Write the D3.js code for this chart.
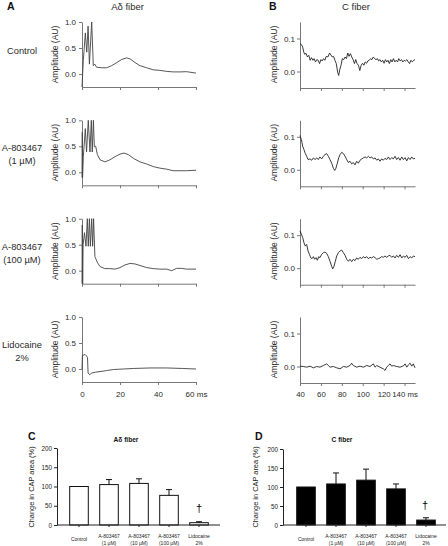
<!DOCTYPE html>
<html><head><meta charset="utf-8">
<script src="https://cdn.jsdelivr.net/npm/d3@7/dist/d3.min.js"></script>
<style>body{margin:0;background:#fff}svg{display:block;font-family:Arial,"Liberation Sans",sans-serif}</style>
</head><body><svg id="c" width="448" height="546"></svg>
<script>
// ---------- DATA ----------
const rowLabels = [["Control"], ["A-803467", "(1 µM)"], ["A-803467", "(100 µM)"], ["Lidocaine", "2%"]];
const aTicksX = [0, 20, 40, 60];
const aTicksY = [0, 0.5, 1.0];
const bTicksX = [40, 60, 80, 100, 120, 140];
const bTicksY = [0, 0.1];

// A-delta fiber traces [ms, AU]
const adControl = [[0,-0.25],[0.7,0.26],[1.75,0.79],[2.5,0.42],[3.2,0.92],[3.9,0.19],[5.1,1.0],[5.95,0.16],[6.7,0.19],[7.7,0.13],[10.4,0.12],[13,0.12],[15.6,0.16],[18.3,0.22],[20.9,0.28],[23.5,0.31],[25.3,0.29],[27.9,0.22],[30.5,0.16],[34,0.12],[37.5,0.08],[41,0.07],[44.6,0.05],[48,0.04],[51.6,0.04],[55,0.045],[59.5,0.02],[60,0.02]];
const adA1 = [[0,-0.1],[0.15,0.77],[0.3,-0.1],[0.7,0.3],[1.75,0.84],[2.4,0.39],[3.3,1.0],[4.2,0.39],[4.9,1.0],[5.4,0.39],[6,1.0],[6.5,0.49],[7.2,0.5],[8.1,0.34],[9.5,0.24],[12.1,0.2],[14.7,0.24],[17.4,0.3],[20,0.35],[22.1,0.37],[24.4,0.34],[27,0.27],[30.5,0.2],[34,0.16],[37.5,0.11],[41,0.08],[44.6,0.06],[48,0.03],[51.6,0.03],[55,0.03],[60,0.04]];
const adA100 = [[0,-0.25],[0.15,0.88],[0.35,-0.25],[0.6,0.5],[1.3,0.73],[2.1,0.47],[2.8,1.0],[3.3,0.47],[3.9,1.0],[4.4,0.47],[5.1,1.0],[5.6,0.47],[6.1,1.0],[6.8,0.27],[8.2,0.15],[9.5,0.08],[12,0.04],[14.7,0.04],[17.4,0.03],[20,0.06],[22.6,0.11],[25.3,0.14],[27.9,0.13],[30.5,0.1],[34,0.06],[37.5,0.04],[41,0.03],[44.6,0.03],[47.2,0.0],[49.8,0.045],[52.5,0.045],[55,0.03],[60,0.03]];
const adLido = [[0,0],[0.2,0.26],[1.6,0.28],[2.4,0.25],[2.9,0.22],[3.2,-0.08],[4.2,-0.11],[4.9,-0.08],[7.2,-0.06],[9.5,-0.05],[13,-0.03],[16.5,-0.01],[21.8,0],[27,0.01],[35.8,0.02],[44.6,0.02],[53,0.01],[60,0]];

// C fiber traces [ms, AU]
const cControl = [[40,.085],[41.3,.082],[42.6,.074],[43.6,.059],[44.5,.052],[45.8,.055],[47.1,.044],[48.4,.049],[49.7,.034],[51,.042],[52.3,.034],[53.5,.039],[54.8,.029],[56.1,.036],[57.4,.034],[58.7,.024],[60,.036],[61.2,.032],[62.5,.039],[63.8,.034],[65.1,.046],[66.7,.044],[68.3,.056],[69.6,.05],[70.8,.044],[72.1,.046],[73.4,.034],[74.7,.024],[76,-.002],[77,-.012],[78,.005],[79.2,.018],[80.5,.039],[81.8,.036],[83.1,.044],[84.4,.039],[85.7,.056],[86.9,.046],[88.2,.054],[89.5,.044],[90.8,.036],[92.1,.024],[93.3,.036],[94.6,.024],[95.9,.019],[97.2,.003],[98.5,.019],[99.8,.025],[101.1,.019],[102.4,.029],[103.7,.025],[104.9,.032],[106.2,.034],[107.5,.039],[108.8,.036],[110.1,.044],[111.4,.039],[112.7,.036],[114,.039],[115.2,.032],[116.5,.036],[117.8,.029],[119.1,.034],[120.4,.025],[121.7,.036],[123,.029],[124.2,.034],[125.5,.024],[126.8,.036],[128.1,.029],[129.4,.039],[130.7,.029],[132,.034],[133.3,.029],[134.5,.039],[135.8,.032],[137.1,.036],[138.4,.029],[139.7,.034],[141,.032],[142.3,.036],[143.5,.029],[144.8,.024],[146.1,.034],[147.4,.029],[148.7,.034],[150,.036]];
const cA1 = [[40,.104],[41.3,.092],[42.6,.071],[43.8,.061],[45.1,.049],[46.4,.041],[47.7,.031],[49.6,.033],[51.2,.029],[52.8,.036],[54.4,.031],[56,.036],[57.5,.031],[59.1,.039],[60.7,.033],[62.3,.041],[63.9,.046],[65.5,.049],[67.1,.041],[68.7,.031],[70.3,.02],[71.9,.005],[73.2,-.002],[74.4,.005],[75.7,.02],[77,.036],[78.3,.046],[79.9,.053],[81.5,.049],[83.1,.041],[84.7,.031],[86.3,.022],[87.8,.026],[89.4,.018],[91,.022],[92.6,.015],[94.2,.026],[95.8,.02],[97.4,.029],[99,.033],[100.6,.036],[102.2,.039],[103.8,.036],[105.4,.041],[107,.036],[108.6,.039],[110.2,.033],[111.8,.036],[113.4,.029],[115,.033],[116.5,.026],[118.1,.033],[119.7,.029],[121.3,.035],[122.9,.031],[124.5,.039],[126.1,.031],[127.7,.037],[129.3,.033],[130.9,.041],[132.5,.031],[134.1,.037],[135.7,.029],[137.3,.039],[138.9,.031],[140.5,.037],[142.1,.027],[143.7,.037],[145.3,.031],[146.9,.039],[148.4,.033],[150,.035]];
const cA100 = [[40,.113],[41.3,.103],[42.6,.093],[43.8,.077],[45.1,.067],[46.4,.072],[47.7,.052],[49,.042],[50.2,.032],[51.5,.029],[52.8,.035],[54,.027],[55.3,.032],[56.6,.024],[57.9,.035],[59.1,.032],[60.7,.042],[62.3,.047],[63.9,.049],[65.5,.045],[67.1,.035],[68.7,.021],[70.3,.006],[71.3,-.002],[72.5,.006],[73.8,.021],[75.1,.037],[76.7,.047],[78.3,.052],[79.9,.055],[81.5,.047],[83.1,.039],[84.7,.027],[86.3,.021],[87.8,.027],[89.4,.02],[91,.027],[92.6,.023],[94.2,.031],[95.8,.027],[97.4,.033],[99,.029],[100.6,.035],[102.2,.031],[103.8,.035],[105.4,.029],[107,.033],[108.6,.031],[110.2,.035],[111.8,.032],[113.4,.027],[115,.029],[116.5,.031],[118.1,.035],[119.7,.033],[121.3,.037],[122.9,.033],[124.5,.037],[126.1,.039],[127.7,.033],[129.3,.037],[130.9,.031],[132.5,.039],[134.1,.033],[135.7,.041],[137.3,.031],[138.9,.037],[140.5,.033],[142.1,.039],[143.7,.029],[145.3,.035],[146.9,.031],[148.4,.037],[150,.035]];
const cLido = [[40,.001],[43.2,0],[46.4,-.002],[49.6,.001],[52.8,-.004],[56,0],[59.1,-.002],[62.3,.003],[65.5,.008],[67.1,.003],[68.7,-.002],[71.9,0],[75.1,-.004],[78.3,-.007],[81.5,0],[84.7,-.002],[87.8,.003],[89.4,.01],[91,.003],[94.2,-.002],[97.4,.001],[100.6,-.002],[103.8,.003],[107,0],[110.2,.008],[111.8,-.002],[113.4,.003],[116.5,-.002],[119.7,-.007],[121.3,-.012],[122.9,-.002],[124.5,.003],[126.1,.008],[127.7,.001],[129.3,.003],[132.5,0],[135.7,-.002],[138.9,.002],[140.5,.008],[142.1,-.002],[143.7,.005],[145.3,.01],[146.9,.001],[148.4,.008],[150,-.004]];

// Bar charts
const barCats = ["Control", "A-803467 (1 µM)", "A-803467 (10 µM)", "A-803467 (100 µM)", "Lidocaine 2%"];
const barCatLines = [["Control"], ["A-803467", "(1 µM)"], ["A-803467", "(10 µM)"], ["A-803467", "(100 µM)"], ["Lidocaine", "2%"]];
const barTicksY = [0, 50, 100, 150, 200];
const adMeans = [100, 105, 108, 77, 6];
const adErr = [0, 13, 12, 15, 2.5];
const cMeans = [100, 108, 118, 95, 13];
const cErr = [0, 29, 29, 13, 6];

// ---------- DRAW ----------
const svg = d3.select("#c");
const axisCol = "#777", txtCol = "#2a2a2a";
const rowTops = [22, 120.3, 218.7, 317];
const adTraces = [adControl, adA1, adA100, adLido];
const cTraces = [cControl, cA1, cA100, cLido];

function styleAxis(g, fs) {
  g.selectAll("path.domain").attr("stroke", axisCol).attr("stroke-width", 1);
  g.selectAll(".tick line").attr("stroke", axisCol);
  g.selectAll(".tick text").attr("fill", txtCol).style("font-size", fs + "px").style("font-family", 'Arial,"Liberation Sans",sans-serif');
}

// Panel letters and titles
svg.append("text").attr("x", 7).attr("y", 10).text("A").style("font-weight", "bold").style("font-size", "10.5px").attr("fill", "#111");
svg.append("text").attr("x", 269).attr("y", 10).text("B").style("font-weight", "bold").style("font-size", "10.5px").attr("fill", "#111");
svg.append("text").attr("x", 127.5).attr("y", 10).attr("text-anchor", "middle").text("Aδ fiber").style("font-size", "9.5px").attr("fill", txtCol);
svg.append("text").attr("x", 356).attr("y", 10).attr("text-anchor", "middle").text("C fiber").style("font-size", "9.5px").attr("fill", txtCol);

const xA = d3.scaleLinear().domain([0, 60]).range([82, 196]);
const xB = d3.scaleLinear().domain([40, 150]).range([300, 415]);

rowTops.forEach((top, i) => {
  const lines = rowLabels[i];
  const t = svg.append("text").attr("text-anchor", "middle").style("font-size", "9.3px").attr("fill", txtCol);
  const base = lines.length === 1 ? top + 32 : top + 31;
  lines.forEach((l, j) => t.append("tspan").attr("x", 22).attr("y", base + j * 13).text(l));

  // A panel
  const yA = d3.scaleLinear().domain([-0.25, 1]).range([top + 65, top]);
  const last = i === 3;
  const gx = svg.append("g").attr("transform", `translate(0,${top + 65})`)
    .call(d3.axisBottom(xA).tickValues(aTicksX).tickSize(3).tickSizeOuter(0).tickPadding(6)
      .tickFormat(last ? (d => d === 60 ? "60 ms" : d) : ""));
  styleAxis(gx, 8);
  const gy = svg.append("g").attr("transform", "translate(82,0)")
    .call(d3.axisLeft(yA).tickValues(aTicksY).tickSize(3).tickSizeOuter(0).tickPadding(3).tickFormat(d3.format(".1f")));
  styleAxis(gy, 8);
  svg.append("text").attr("transform", `translate(58,${top + 32.5}) rotate(-90)`).attr("text-anchor", "middle")
    .text("Amplitude (AU)").style("font-size", "8.5px").attr("fill", txtCol);
  const lineA = d3.line().x(d => xA(d[0])).y(d => yA(d[1]));
  svg.append("path").datum(adTraces[i]).attr("d", lineA).attr("fill", "none").attr("stroke", "#444").attr("stroke-width", 0.9);

  // B panel
  const yB = d3.scaleLinear().domain([-0.05, 0.15]).range([top + 66, top]);
  const gxb = svg.append("g").attr("transform", `translate(0,${top + 66})`)
    .call(d3.axisBottom(xB).tickValues(bTicksX).tickSize(3).tickSizeOuter(0).tickPadding(5)
      .tickFormat(last ? (d => d === 140 ? "140 ms" : d) : ""));
  styleAxis(gxb, 7.8);
  const gyb = svg.append("g").attr("transform", "translate(300,0)")
    .call(d3.axisLeft(yB).tickValues(bTicksY).tickSize(3).tickSizeOuter(0).tickPadding(2).tickFormat(d3.format(".1f")));
  styleAxis(gyb, 8);
  svg.append("text").attr("transform", `translate(277,${top + 32.5}) rotate(-90)`).attr("text-anchor", "middle")
    .text("Amplitude (AU)").style("font-size", "8.5px").attr("fill", txtCol);
  const lineB = d3.line().x(d => xB(d[0])).y(d => yB(d[1]));
  svg.append("path").datum(cTraces[i]).attr("d", lineB).attr("fill", "none").attr("stroke", "#222").attr("stroke-width", 0.9);
});

// ---------- Bar charts ----------
function barChart(opt) {
  const { ax, bandL, bandR, xEnd, yTop, letter, letterX, title, titleX, titleSize, ytX, means, errs, fill, daggerX, daggerY } = opt;
  const y = d3.scaleLinear().domain([0, 200]).range([525, yTop]);
  const x = d3.scaleBand().domain(barCats).range([bandL, bandR]).paddingInner(0.38).paddingOuter(0.19);
  svg.append("text").attr("x", letterX).attr("y", 440).text(letter).style("font-weight", "bold").style("font-size", "10.5px").attr("fill", "#111");
  svg.append("text").attr("x", titleX).attr("y", 441.5).attr("text-anchor", "middle").text(title)
    .style("font-weight", "bold").style("font-size", titleSize + "px").attr("fill", "#111");
  svg.append("text").attr("transform", `translate(${ytX},487) rotate(-90)`).attr("text-anchor", "middle")
    .text("Change in CAP area (%)").style("font-size", "7.4px").attr("fill", "#222");
  svg.append("g").selectAll("rect").data(means).join("rect")
    .attr("x", (d, i) => x(barCats[i])).attr("width", x.bandwidth())
    .attr("y", d => y(d)).attr("height", d => 525 - y(d))
    .attr("fill", fill).attr("stroke", "#111").attr("stroke-width", 1);
  const eg = svg.append("g").attr("stroke", "#111").attr("stroke-width", 1);
  means.forEach((m, i) => {
    if (!errs[i]) return;
    const cx = x(barCats[i]) + x.bandwidth() / 2;
    eg.append("line").attr("x1", cx).attr("x2", cx).attr("y1", y(m)).attr("y2", y(m + errs[i]));
    eg.append("line").attr("x1", cx - 3).attr("x2", cx + 3).attr("y1", y(m + errs[i])).attr("y2", y(m + errs[i]));
  });
  const gy = svg.append("g").attr("transform", `translate(${ax},0)`)
    .call(d3.axisLeft(y).tickValues(barTicksY).tickSize(3).tickSizeOuter(0).tickPadding(2));
  gy.selectAll("path.domain,.tick line").attr("stroke", "#222");
  gy.selectAll(".tick text").attr("fill", "#222").style("font-size", "6.3px");
  const gx = svg.append("g").attr("transform", "translate(0,525)")
    .call(d3.axisBottom(x).tickSize(2).tickSizeOuter(0).tickFormat(""));
  gx.select("path.domain").remove();
  gx.selectAll(".tick line").attr("stroke", "#222");
  gx.append("line").attr("x1", ax).attr("x2", xEnd).attr("y1", 0).attr("y2", 0).attr("stroke", "#222");
  barCatLines.forEach((lines, i) => {
    const cx = x(barCats[i]) + x.bandwidth() / 2;
    const t = svg.append("text").attr("text-anchor", "middle").style("font-size", "5px").attr("fill", "#222");
    if (lines.length === 1) t.append("tspan").attr("x", cx).attr("y", 540.5).text(lines[0]);
    else lines.forEach((l, j) => t.append("tspan").attr("x", cx).attr("y", 538 + j * 6.8).text(l));
  });
  svg.append("text").attr("x", daggerX).attr("y", daggerY).attr("text-anchor", "middle").text("†")
    .style("font-size", "11px").style("font-family", '"Liberation Sans","DejaVu Sans",sans-serif').attr("fill", "#000");
}

barChart({ ax: 57, bandL: 64, bandR: 214, xEnd: 220, yTop: 448, letter: "C", letterX: 28, title: "Aδ fiber", titleX: 126, titleSize: 6.6,
  ytX: 34, means: adMeans, errs: adErr, fill: "#fff", daggerX: 199, daggerY: 512 });
barChart({ ax: 283, bandL: 291, bandR: 441, xEnd: 446, yTop: 449, letter: "D", letterX: 255, title: "C fiber", titleX: 342, titleSize: 6.6,
  ytX: 258, means: cMeans, errs: cErr, fill: "#000", daggerX: 425, daggerY: 509 });
</script></body></html>
